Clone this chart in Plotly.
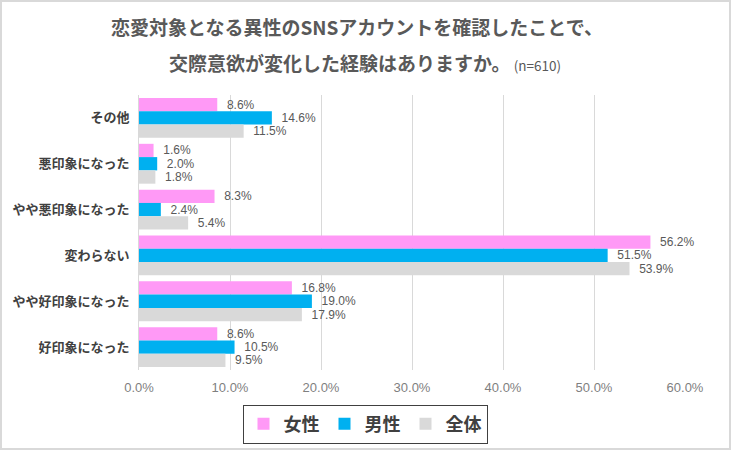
import plotly.graph_objects as go

categories = ["その他", "悪印象になった", "やや悪印象になった", "変わらない", "やや好印象になった", "好印象になった"]
female = [8.6, 1.6, 8.3, 56.2, 16.8, 8.6]
male = [14.6, 2.0, 2.4, 51.5, 19.0, 10.5]
total = [11.5, 1.8, 5.4, 53.9, 17.9, 9.5]
series_names = ["女性", "男性", "全体"]
colors = ["#FF99F6", "#00B0F0", "#D9D9D9"]
tick_vals = [0, 10, 20, 30, 40, 50, 60]
tick_text = ["0.0%", "10.0%", "20.0%", "30.0%", "40.0%", "50.0%", "60.0%"]

W, H = 731, 450
L, R, T, B = 139, 46, 95, 80
pw, ph = W - L - R, H - T - B

def px_x(p):
    return (p - L) / pw

def px_y(p):
    return (H - B - p) / ph

fig = go.Figure()
for name, vals, col in zip(series_names, [female, male, total], colors):
    fig.add_trace(go.Bar(
        y=categories, x=vals, name=name, orientation="h",
        marker=dict(color=col, line=dict(width=0)),
        text=[f"\u00a0\u00a0{v:.1f}%" for v in vals], textposition="outside",
        textfont=dict(size=12, color="#595959", family="Liberation Sans, Arial"),
        constraintext="none", cliponaxis=False,
    ))

fig.update_layout(
    width=W, height=H,
    margin=dict(l=L, r=R, t=T, b=B, autoexpand=False),
    paper_bgcolor="white", plot_bgcolor="white",
    barmode="group", bargap=0.13, bargroupgap=0,
    font=dict(family="Noto Sans CJK JP", color="#595959"),
    showlegend=True,
    legend=dict(orientation="h", x=px_x(365), y=px_y(424), xanchor="center", yanchor="middle",
                bordercolor="#404040", borderwidth=1, bgcolor="white",
                font=dict(size=18, color="#404040", family="Noto Sans CJK JP", weight="bold"),
                itemwidth=30, traceorder="normal"),
    xaxis=dict(range=[0, 60], tickvals=tick_vals, ticktext=tick_text, showgrid=True,
               gridcolor="#D9D9D9", gridwidth=1, zeroline=False, showline=False,
               tickfont=dict(size=13, color="#7F7F7F", family="Liberation Sans, Arial"),
               ticks="", ticklabelstandoff=8, fixedrange=True),
    yaxis=dict(autorange="reversed", showline=True, linecolor="#D9D9D9", linewidth=1,
               tickfont=dict(size=13, color="#404040", family="Noto Sans CJK JP", weight="bold"),
               ticks="", ticklabelstandoff=6),
    annotations=[
        dict(text="恋愛対象となる異性のSNSアカウントを確認したことで、", xref="paper", yref="paper",
             x=px_x(357), y=px_y(27), xanchor="center", yanchor="middle", showarrow=False,
             font=dict(size=19, color="#595959", weight="bold")),
        dict(text="交際意欲が変化した経験はありますか。<span style='font-size:13.5px;font-weight:400'> (n=610)</span>",
             xref="paper", yref="paper",
             x=px_x(365), y=px_y(63), xanchor="center", yanchor="middle", showarrow=False,
             font=dict(size=19, color="#595959", weight="bold")),
    ],
    shapes=[dict(type="rect", xref="paper", yref="paper",
                 x0=px_x(1), x1=px_x(W - 1), y0=px_y(1), y1=px_y(H - 1),
                 line=dict(color="#D9D9D9", width=2), layer="below")],
)

fig.write_html("out.html")
